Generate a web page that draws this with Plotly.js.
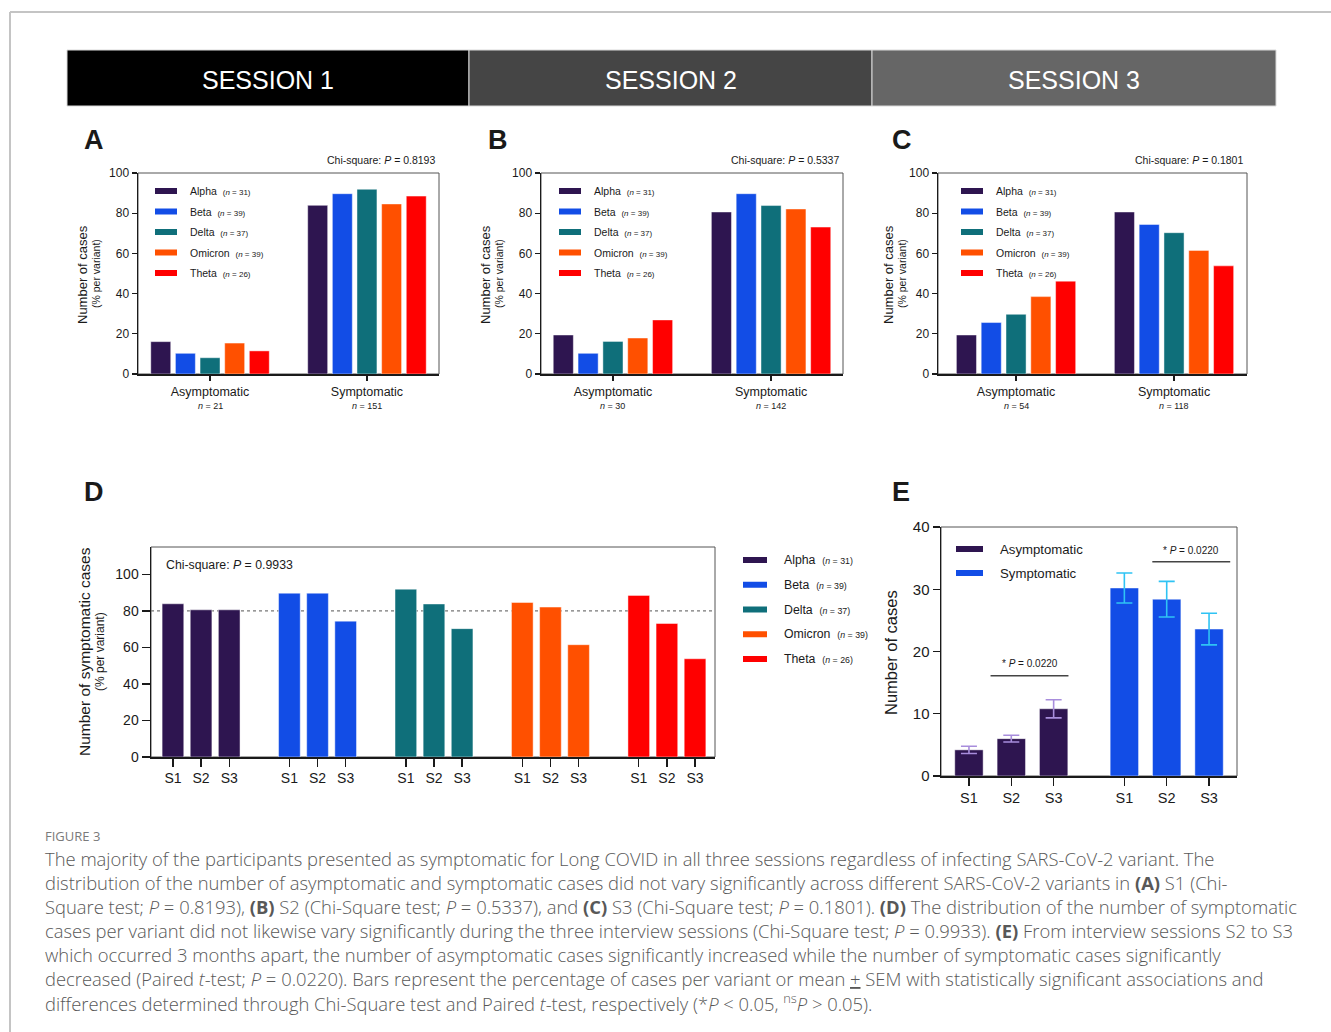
<!DOCTYPE html>
<html><head><meta charset="utf-8">
<script src="https://cdn.plot.ly/plotly-3.0.1.min.js"></script>
<style>html,body{margin:0;padding:0;background:#fff;}#chart{width:1331px;height:1032px;}</style>
</head><body><div id="chart"></div>
<script>
// ---------------- DATA ----------------
const variants = ['Alpha', 'Beta', 'Delta', 'Omicron', 'Theta'];
const variantN = [31, 39, 37, 39, 26];
const variantColors = ['#2e1550', '#124de6', '#0f6f7a', '#ff5000', '#ff0000'];
const statusCategories = ['Asymptomatic', 'Symptomatic'];
const sessionLabels = ['S1', 'S2', 'S3'];
const headerLabels = ['SESSION 1', 'SESSION 2', 'SESSION 3'];
const chiSquareP = ['0.8193', '0.5337', '0.1801'];
const chiSquarePD = '0.9933';
// Panel A (Session 1): % of cases per variant
const s1Asymptomatic = [16.1, 10.3, 8.1, 15.4, 11.5];
const s1Symptomatic  = [83.9, 89.7, 91.9, 84.6, 88.5];
const s1StatusN = [21, 151];
// Panel B (Session 2)
const s2Asymptomatic = [19.4, 10.3, 16.2, 17.9, 26.9];
const s2Symptomatic  = [80.6, 89.7, 83.8, 82.1, 73.1];
const s2StatusN = [30, 142];
// Panel C (Session 3)
const s3Asymptomatic = [19.4, 25.6, 29.7, 38.5, 46.2];
const s3Symptomatic  = [80.6, 74.4, 70.3, 61.5, 53.8];
const s3StatusN = [54, 118];
// Panel E: number of cases, mean and SEM per session
const eAsymMean = [4.2, 6.0, 10.8];
const eAsymSem  = [0.58, 0.55, 1.46];
const eSymMean  = [30.2, 28.4, 23.6];
const eSymSem   = [2.40, 2.86, 2.54];
const ePairedP = '0.0220';

// ---------------- HELPERS ----------------
const W = 1331, H = 1032;
const X = p => p / W;
const Y = p => 1 - p / H;
const FONT = '"Liberation Sans", Arial, Helvetica, sans-serif';
const CAPFONT = '"Open Sans", Lato, sans-serif';
const INK = '#1a1a1a';
const tf = s => ({family: FONT, size: s, color: INK});

const data = [], shapes = [], ann = [];
function text(x, y, t, size, o) {
  o = o || {};
  const f = {family: o.family || FONT, size: size, color: o.color || INK};
  if (o.weight) f.weight = o.weight;
  ann.push(Object.assign({xref: 'paper', yref: 'paper', x: X(x), y: Y(y), text: t, showarrow: false,
    xanchor: 'left', yanchor: 'middle', font: f}, o.extra || {}));
}
function rect(x0, y0, x1, y1, fill, line, lw) {
  shapes.push({type: 'rect', xref: 'paper', yref: 'paper', x0: X(x0), x1: X(x1), y0: Y(y0), y1: Y(y1),
    fillcolor: fill, line: {color: line || fill, width: lw === undefined ? 0 : lw}, layer: 'above'});
}
function frame(ax) {
  shapes.push({type: 'rect', xref: 'x' + ax + ' domain', yref: 'y' + ax + ' domain', x0: 0, x1: 1, y0: 0, y1: 1,
    line: {color: '#555', width: 1}, layer: 'below'});
}
const axisBase = {showline: true, linecolor: INK, linewidth: 1.5, ticks: 'outside', tickwidth: 1.3,
  tickcolor: INK, showgrid: false, zeroline: false, fixedrange: true};
const barLine = {color: 'rgba(255,255,255,0.45)', width: 1};

const layout = {width: W, height: H, margin: {l: 0, r: 0, t: 0, b: 0}, paper_bgcolor: '#fff',
  plot_bgcolor: 'rgba(0,0,0,0)', showlegend: false, barmode: 'group', bargap: 0.215, bargroupgap: 0.19,
  font: {family: FONT, color: INK}};

// ---------------- OUTER BORDER + HEADER ----------------
shapes.push({type: 'line', xref: 'paper', yref: 'paper', x0: X(10), x1: X(1331), y0: Y(12), y1: Y(12), line: {color: '#c4c4c4', width: 2}});
shapes.push({type: 'line', xref: 'paper', yref: 'paper', x0: X(10), x1: X(10), y0: Y(12), y1: Y(1032), line: {color: '#c4c4c4', width: 2}});
const headerX = [67, 469, 872, 1276];
const headerFill = ['#000000', '#454545', '#666666'];
headerLabels.forEach((h, i) => {
  rect(headerX[i], 50, headerX[i + 1], 106, headerFill[i], '#d9d9d9', 1);
  text((headerX[i] + headerX[i + 1]) / 2, 80, h, 25, {color: '#ffffff', extra: {xanchor: 'center'}});
});

// ---------------- PANELS A-C ----------------
const topPanels = [
  {ax: '',  letter: 'A', letterX: 82,  x0: 138, x1: 439,  range: [-0.459, 1.459], asym: s1Asymptomatic, sym: s1Symptomatic, n: s1StatusN, p: chiSquareP[0], swX: 155, txtX: 188, titleX: 82,  subX: 96},
  {ax: '2', letter: 'B', letterX: 486, x0: 541, x1: 843,  range: [-0.455, 1.455], asym: s2Asymptomatic, sym: s2Symptomatic, n: s2StatusN, p: chiSquareP[1], swX: 559, txtX: 592, titleX: 485, subX: 499},
  {ax: '3', letter: 'C', letterX: 890, x0: 938, x1: 1247, range: [-0.494, 1.462], asym: s3Asymptomatic, sym: s3Symptomatic, n: s3StatusN, p: chiSquareP[2], swX: 961, txtX: 994, titleX: 888, subX: 902}
];
topPanels.forEach(P => {
  const xa = 'x' + P.ax, ya = 'y' + P.ax;
  layout['xaxis' + P.ax] = Object.assign({}, axisBase, {domain: [X(P.x0), X(P.x1)], anchor: ya, type: 'category',
    categoryorder: 'array', categoryarray: statusCategories, range: P.range, ticklen: 5, tickfont: tf(12.5)});
  layout['yaxis' + P.ax] = Object.assign({}, axisBase, {domain: [Y(374), Y(173)], anchor: xa, range: [0, 100],
    tickvals: [0, 20, 40, 60, 80, 100], ticklen: 5, tickfont: tf(12)});
  frame(P.ax);
  variants.forEach((v, i) => {
    data.push({type: 'bar', name: v, x: statusCategories, y: [P.asym[i], P.sym[i]], xaxis: xa, yaxis: ya,
      marker: {color: variantColors[i], line: barLine}, hoverinfo: 'skip'});
    const ry = 191 + i * 20.5;
    rect(P.swX, ry - 3, P.swX + 22, ry + 3, variantColors[i]);
    text(P.txtX, ry, v + '\u00A0\u00A0<span style="font-size:8px">(<i>n</i> = ' + variantN[i] + ')</span>', 10.5);
  });
  statusCategories.forEach((c, j) => {
    ann.push({xref: xa, yref: 'paper', x: j, y: Y(406), text: '<i>n</i> = ' + P.n[j], showarrow: false,
      xanchor: 'center', yanchor: 'middle', font: tf(9)});
  });
  text(P.letterX, 140, '<b>' + P.letter + '</b>', 27);
  text(P.x1 - 2, 160, 'Chi-square: <i>P</i> = ' + P.p, 10.5, {extra: {xanchor: 'right'}});
  text(P.titleX, 275, 'Number of cases', 13, {extra: {xanchor: 'center', textangle: -90}});
  text(P.subX, 274, '(% per variant)', 10.5, {extra: {xanchor: 'center', textangle: -90}});
});

// ---------------- PANEL D ----------------
const dGroupStep = 4.14;
const dTickVals = [], dTickText = [];
variants.forEach((v, g) => {
  const xs = sessionLabels.map((s, k) => g * dGroupStep + k);
  sessionLabels.forEach((s, k) => { dTickVals.push(xs[k]); dTickText.push(s); });
  data.push({type: 'bar', name: v, x: xs, y: [s1Symptomatic[g], s2Symptomatic[g], s3Symptomatic[g]],
    xaxis: 'x4', yaxis: 'y4', width: 0.77, offsetgroup: 'd', marker: {color: variantColors[g], line: barLine}, hoverinfo: 'skip'});
  const ry = 560 + g * 24.75;
  rect(743, ry - 3, 767, ry + 3, variantColors[g]);
  text(782, ry, v + '\u00A0\u00A0<span style="font-size:8.8px">(<i>n</i> = ' + variantN[g] + ')</span>', 12.3);
});
layout.xaxis4 = Object.assign({}, axisBase, {domain: [X(151), X(715)], anchor: 'y4', range: [-0.78, 19.27],
  tickvals: dTickVals, ticktext: dTickText, ticklen: 8, tickfont: tf(14)});
layout.yaxis4 = Object.assign({}, axisBase, {domain: [Y(757), Y(547)], anchor: 'x4', range: [0, 115],
  tickvals: [0, 20, 40, 60, 80, 100], ticklen: 8, tickfont: tf(14)});
frame('4');
shapes.push({type: 'line', xref: 'x4 domain', yref: 'y4', x0: 0, x1: 1, y0: 80, y1: 80,
  line: {color: '#777', width: 1.2, dash: 'dot'}, layer: 'below'});
text(82, 492, '<b>D</b>', 27);
text(164, 565, 'Chi-square: <i>P</i> = ' + chiSquarePD, 12.3);
text(84, 652, 'Number of symptomatic cases', 15.5, {extra: {xanchor: 'center', textangle: -90}});
text(100, 651, '(% per variant)', 12, {extra: {xanchor: 'center', textangle: -90}});

// ---------------- PANEL E ----------------
const eGroupStep = 3.67;
const eAsymX = sessionLabels.map((s, k) => k);
const eSymX = sessionLabels.map((s, k) => eGroupStep + k);
data.push({type: 'bar', name: statusCategories[0], x: eAsymX, y: eAsymMean, xaxis: 'x5', yaxis: 'y5', width: 0.67,
  offsetgroup: 'e', marker: {color: variantColors[0], line: barLine}, hoverinfo: 'skip',
  error_y: {type: 'data', array: eAsymSem, visible: true, color: '#a88ddc', thickness: 1.6, width: 8}});
data.push({type: 'bar', name: statusCategories[1], x: eSymX, y: eSymMean, xaxis: 'x5', yaxis: 'y5', width: 0.67,
  offsetgroup: 'e', marker: {color: variantColors[1], line: barLine}, hoverinfo: 'skip',
  error_y: {type: 'data', array: eSymSem, visible: true, color: '#2fc3f4', thickness: 1.6, width: 8}});
layout.xaxis5 = Object.assign({}, axisBase, {domain: [X(941), X(1237)], anchor: 'y5', range: [-0.66, 6.33],
  tickvals: eAsymX.concat(eSymX), ticktext: sessionLabels.concat(sessionLabels), ticklen: 8, tickfont: tf(14.5)});
layout.yaxis5 = Object.assign({}, axisBase, {domain: [Y(776), Y(527)], anchor: 'x5', range: [0, 40],
  tickvals: [0, 10, 20, 30, 40], ticklen: 7, tickfont: tf(15)});
frame('5');
text(890, 492, '<b>E</b>', 27);
text(891, 653, 'Number of cases', 16.5, {extra: {xanchor: 'center', textangle: -90}});
statusCategories.forEach((c, i) => {
  const ry = 549 + i * 24;
  rect(956, ry - 3, 983, ry + 3, variantColors[i]);
  text(998, ry, c, 13.2);
});
// significance brackets
[[0.51, 2.35, 16.1, 18.0], [4.33, 6.17, 34.4, 36.3]].forEach(b => {
  shapes.push({type: 'line', xref: 'x5', yref: 'y5', x0: b[0], x1: b[1], y0: b[2], y1: b[2], line: {color: '#444', width: 1.5}});
  ann.push({xref: 'x5', yref: 'y5', x: (b[0] + b[1]) / 2, y: b[3], text: '*\u00A0<i>P</i> = ' + ePairedP,
    showarrow: false, xanchor: 'center', yanchor: 'middle', font: tf(10)});
});

// ---------------- CAPTION ----------------
const captionLines = [
  'The majority of the participants presented as symptomatic for Long COVID in all three sessions regardless of infecting SARS-CoV-2 variant. The',
  'distribution of the number of asymptomatic and symptomatic cases did not vary significantly across different SARS-CoV-2 variants in <b>(A)</b> S1 (Chi-',
  'Square test; <i>P</i> = 0.8193), <b>(B)</b> S2 (Chi-Square test; <i>P</i> = 0.5337), and <b>(C)</b> S3 (Chi-Square test; <i>P</i> = 0.1801). <b>(D)</b> The distribution of the number of symptomatic',
  'cases per variant did not likewise vary significantly during the three interview sessions (Chi-Square test; <i>P</i> = 0.9933). <b>(E)</b> From interview sessions S2 to S3',
  'which occurred 3 months apart, the number of asymptomatic cases significantly increased while the number of symptomatic cases significantly',
  'decreased (Paired <i>t</i>-test; <i>P</i> = 0.0220). Bars represent the percentage of cases per variant or mean <u>+</u> SEM with statistically significant associations and',
  'differences determined through Chi-Square test and Paired <i>t</i>-test, respectively (*<i>P</i> &lt; 0.05, <sup>ns</sup><i>P</i> &gt; 0.05).'
];
text(43, 836, 'FIGURE 3', 13, {family: CAPFONT, color: '#7a7a7a'});
captionLines.forEach((l, k) => text(43, 858 + k * 24, l, 18.4, {family: CAPFONT, color: '#585858', weight: 300}));

layout.shapes = shapes;
layout.annotations = ann;
Plotly.newPlot('chart', data, layout, {staticPlot: true, displayModeBar: false});
</script></body></html>
